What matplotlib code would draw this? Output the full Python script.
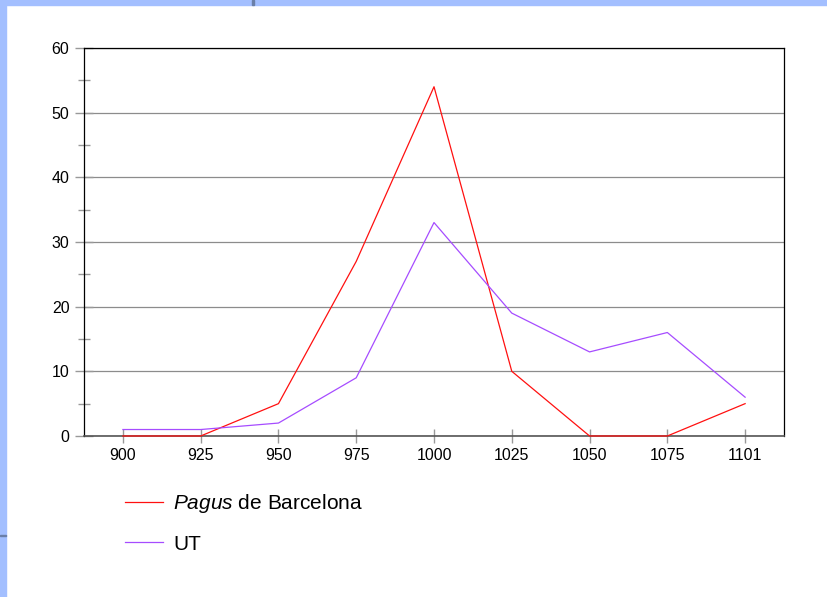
import matplotlib
matplotlib.use('Agg')
import matplotlib.pyplot as plt
from matplotlib.patches import Rectangle
import numpy as np

# ------------------- DATA ----------------
years = ['900', '925', '950', '975', '1000', '1025', '1050', '1075', '1101']
pagus = [0, 0, 5, 27, 54, 10, 0, 0, 5]
ut = [1, 1, 2, 9, 33, 19, 13, 16, 6]
labels = [r'$\mathit{Pagus}$ de Barcelona', 'UT']
colors = ['#ff1010', '#a64cff']

plt.rcParams['font.family'] = ['Liberation Sans', 'DejaVu Sans']
plt.rcParams['mathtext.fontset'] = 'custom'
plt.rcParams['mathtext.it'] = 'Liberation Sans:italic'
plt.rcParams['mathtext.rm'] = 'Liberation Sans'

fig = plt.figure(figsize=(8.27, 5.97), dpi=100)
ax = fig.add_axes([0.1016, 0.2697, 0.8464, 0.65])

x = np.arange(len(years))
ax.plot(x, pagus, color=colors[0], lw=0.9, label=labels[0], zorder=3,
        clip_on=False)
ax.plot(x, ut, color=colors[1], lw=0.9, label=labels[1], zorder=3,
        clip_on=False)

ax.set_xlim(-0.5, len(years) - 0.5)
ax.set_ylim(0, 60)
ax.set_xticks(x)
ax.set_xticklabels(years)
ax.set_yticks(np.arange(0, 61, 10))
ax.set_yticks(np.arange(5, 60, 10), minor=True)
ax.yaxis.grid(True, color='#8c8c8c', lw=0.9)
ax.set_axisbelow(True)

ax.tick_params(axis='y', which='major', direction='inout', length=13,
               color='#999999', width=1, labelsize=11.5, pad=4)
ax.tick_params(axis='y', which='minor', direction='inout', length=9,
               color='#999999', width=1)
ax.tick_params(axis='x', direction='inout', length=10, color='#999999',
               width=1, labelsize=11.5, pad=4)

for s in ['top', 'right', 'left']:
    ax.spines[s].set_color('black')
    ax.spines[s].set_linewidth(0.9)
ax.spines['bottom'].set_color('#555555')
ax.spines['bottom'].set_linewidth(1.2)

fig.legend(loc='center left', bbox_to_anchor=(0.151, 0.124), frameon=False,
           fontsize=15, handlelength=1.83, handletextpad=0.48,
           labelspacing=0.92, borderpad=0, borderaxespad=0)

# blue frame of the slide
fig.patches.append(Rectangle((0, 1 - 5 / 597), 1, 5 / 597, transform=fig.transFigure,
                             color='#a3bfff', zorder=0))
fig.patches.append(Rectangle((0, 0), 6 / 827, 1, transform=fig.transFigure,
                             color='#a3bfff', zorder=0))
fig.patches.append(Rectangle((252 / 827, 1 - 5 / 597), 1.5 / 827, 5 / 597,
                             transform=fig.transFigure, color='#6a7fa8', zorder=1))
fig.patches.append(Rectangle((0, 1 - 536 / 597), 6 / 827, 1.5 / 597,
                             transform=fig.transFigure, color='#6a7fa8', zorder=1))

fig.savefig('out.png', dpi=100)
